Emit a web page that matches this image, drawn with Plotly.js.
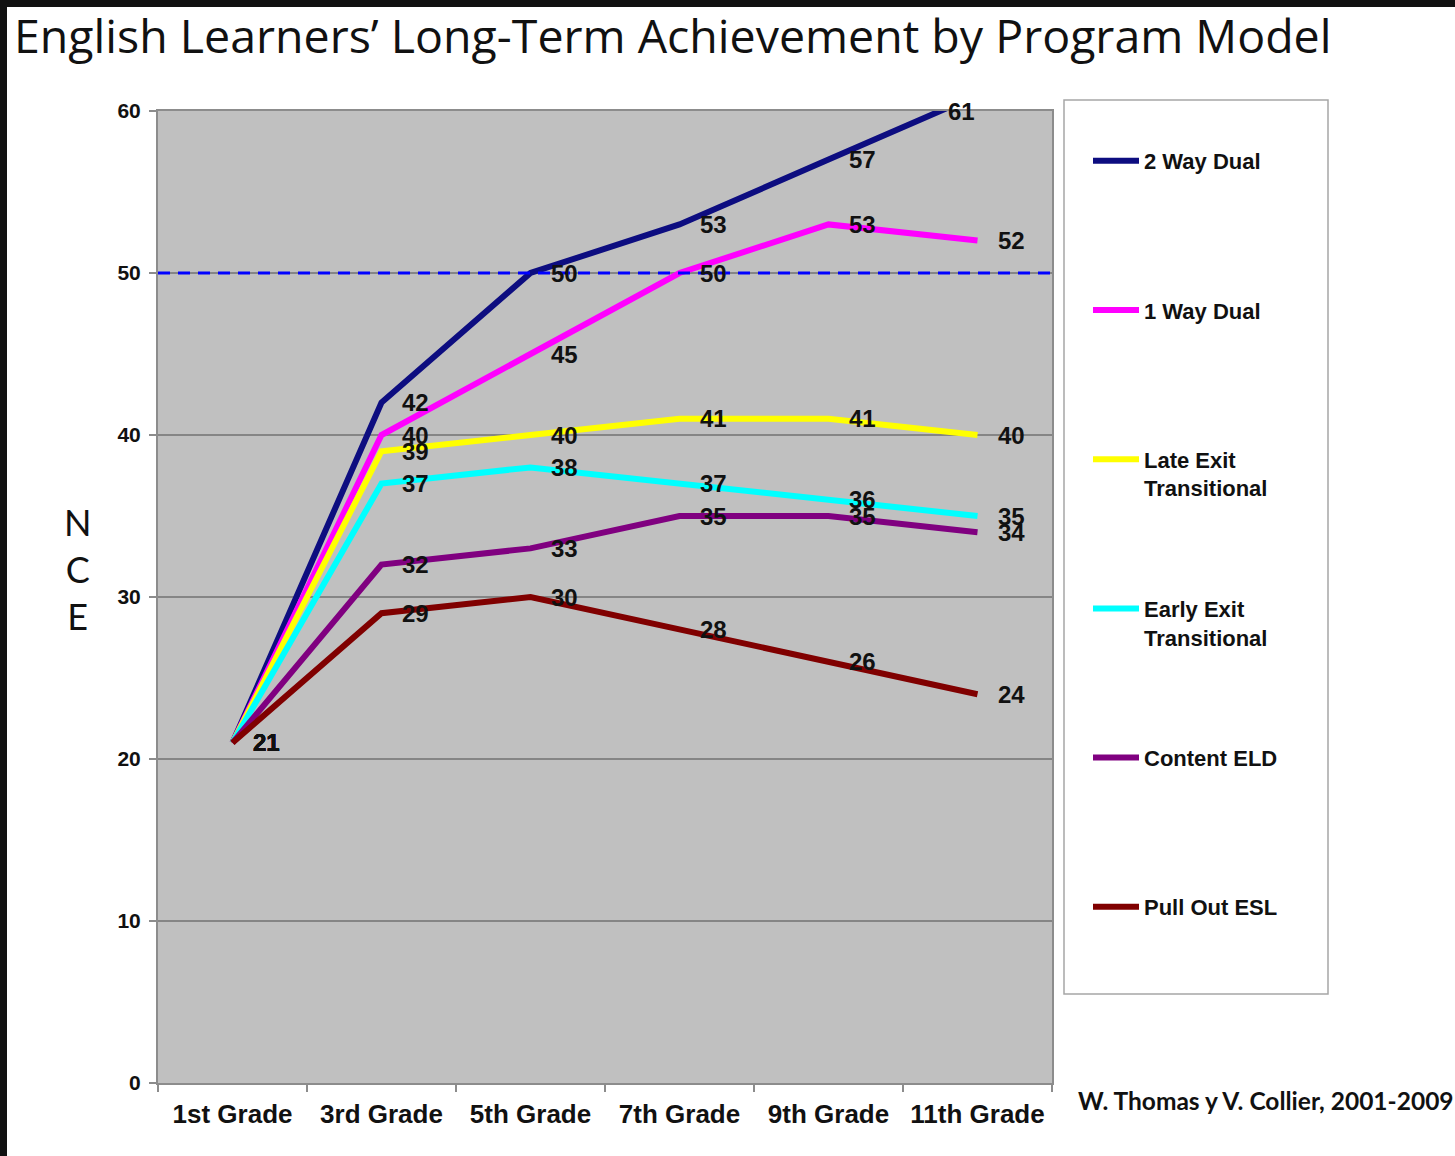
<!DOCTYPE html>
<html>
<head>
<meta charset="utf-8">
<script src="https://cdn.plot.ly/plotly-3.0.1.min.js"></script>
<style>
  html, body { margin: 0; padding: 0; background: #ffffff; }
  #chart { width: 1455px; height: 1156px; }
</style>
</head>
<body>
<div id="chart"></div>
<script>
// ---- data ----
const grades = ["1st Grade", "3rd Grade", "5th Grade", "7th Grade", "9th Grade", "11th Grade"];
const seriesNames = ["2 Way Dual", "1 Way Dual", "Late Exit<br>Transitional", "Early Exit<br>Transitional", "Content ELD", "Pull Out ESL"];
const twoWayDual   = [21, 42, 50, 53, 57, 61];
const oneWayDual   = [21, 40, 45, 50, 53, 52];
const lateExit     = [21, 39, 40, 41, 41, 40];
const earlyExit    = [21, 37, 38, 37, 36, 35];
const contentELD   = [21, 32, 33, 35, 35, 34];
const pullOutESL   = [21, 29, 30, 28, 26, 24];
const yTicks = [0, 10, 20, 30, 40, 50, 60];
const referenceLine = 50;
const titleText = "English Learners’ Long-Term Achievement by Program Model";
const yTitle = "N<br>C<br>E";
const sourceNote = "W. Thomas y V. Collier, 2001-2009";

// ---- styling ----
const colors = ["#0d0d80", "#ff00ff", "#ffff00", "#00ffff", "#800080", "#800000"];
const allSeries = [twoWayDual, oneWayDual, lateExit, earlyExit, contentELD, pullOutESL];
const YMAX = 60;

// page geometry helpers (plot area in pixels)
const W = 1455, H = 1156;
const L = 158, R = 1052, T = 111, B = 1083;
const px = v => (v - L) / (R - L);
const py = v => (B - v) / (B - T);

const traces = allSeries.map((vals, i) => ({
  type: "scatter",
  mode: "lines",
  x: grades,
  y: vals,
  name: seriesNames[i] + (seriesNames[i].indexOf("<br>") < 0 ? "<br> " : ""),
  legendgroup: "g" + i,
  line: { color: colors[i], width: 6, shape: "linear" },
  hoverinfo: "x+y+name"
}));

const labelFont = { family: "Liberation Sans, Arial, sans-serif", size: 24, color: "#111", weight: "bold" };
const annotations = [];
allSeries.forEach((vals, i) => {
  vals.forEach((v, j) => {
    annotations.push({
      x: grades[j], y: Math.min(v, YMAX), xref: "x", yref: "y",
      text: String(v), showarrow: false,
      xshift: v > YMAX ? -16 : 34,
      font: labelFont, xanchor: "center", yanchor: "middle"
    });
  });
});
annotations.push({
  xref: "paper", yref: "paper", x: px(78), y: py(569),
  text: yTitle, showarrow: false, xanchor: "center", yanchor: "middle",
  font: { family: "Lato, Open Sans, sans-serif", size: 36, color: "#111" }
});
annotations.push({
  xref: "paper", yref: "paper", x: px(1076), y: py(1100),
  text: sourceNote, showarrow: false, xanchor: "left", yanchor: "middle",
  font: { family: "Lato, Open Sans, sans-serif", size: 24.5, color: "#111", weight: "bold" }
});

const shapes = [
  // reference line at 50
  { type: "line", xref: "paper", yref: "y", x0: 0, x1: 1, y0: referenceLine, y1: referenceLine,
    line: { color: "#0000ff", width: 3, dash: "12px,8px" }, layer: "above" },
  // legend box
  { type: "rect", xref: "paper", yref: "paper", x0: px(1064), x1: px(1328), y0: py(994), y1: py(100),
    line: { color: "#a6a6a6", width: 1.5 }, fillcolor: "rgba(255,255,255,0)", layer: "below" },
  // outer black frame (top and left)
  { type: "rect", xref: "paper", yref: "paper", x0: px(0), x1: px(W), y0: py(7), y1: py(0),
    line: { width: 0 }, fillcolor: "#111111", layer: "above" },
  { type: "rect", xref: "paper", yref: "paper", x0: px(0), x1: px(7), y0: py(H), y1: py(0),
    line: { width: 0 }, fillcolor: "#111111", layer: "above" }
];

const layout = {
  width: W, height: H,
  margin: { l: L, r: W - R, t: T, b: H - B, pad: 0 },
  paper_bgcolor: "#ffffff",
  plot_bgcolor: "#c0c0c0",
  showlegend: true,
  title: {
    text: titleText,
    xref: "container", yref: "container",
    x: 14 / W, y: 1 - 37 / H, xanchor: "left", yanchor: "middle",
    font: { family: "Open Sans, Lato, sans-serif", size: 46.5, color: "#111" }
  },
  xaxis: {
    type: "category",
    categoryorder: "array", categoryarray: grades,
    range: [-0.5, grades.length - 0.5],
    showgrid: false, zeroline: false,
    showline: true, linecolor: "#8c8c8c", linewidth: 2, mirror: true,
    ticks: "outside", tickson: "boundaries", ticklen: 7, tickcolor: "#8c8c8c", tickwidth: 1.5,
    ticklabelstandoff: 7,
    tickfont: { family: "Liberation Sans, Arial, sans-serif", size: 26, color: "#111", weight: "bold" },
    fixedrange: true
  },
  yaxis: {
    range: [0, YMAX],
    tickvals: yTicks,
    showgrid: true, gridcolor: "#858585", gridwidth: 2,
    zeroline: false,
    showline: true, linecolor: "#8c8c8c", linewidth: 2, mirror: true,
    ticks: "outside", ticklen: 7, tickcolor: "#8c8c8c", tickwidth: 1.5,
    ticklabelstandoff: 4,
    tickfont: { family: "Liberation Sans, Arial, sans-serif", size: 21, color: "#111", weight: "bold" },
    fixedrange: true
  },
  legend: {
    x: px(1088), y: py(140), xanchor: "left", yanchor: "top",
    bgcolor: "rgba(0,0,0,0)", borderwidth: 0,
    traceorder: "grouped", tracegroupgap: 89, valign: "top",
    itemwidth: 46,
    font: { family: "Liberation Sans, Arial, sans-serif", size: 22, color: "#111", weight: "bold" }
  },
  annotations: annotations,
  shapes: shapes
};

Plotly.newPlot("chart", traces, layout, { displayModeBar: false, staticPlot: true });
</script>
</body>
</html>
